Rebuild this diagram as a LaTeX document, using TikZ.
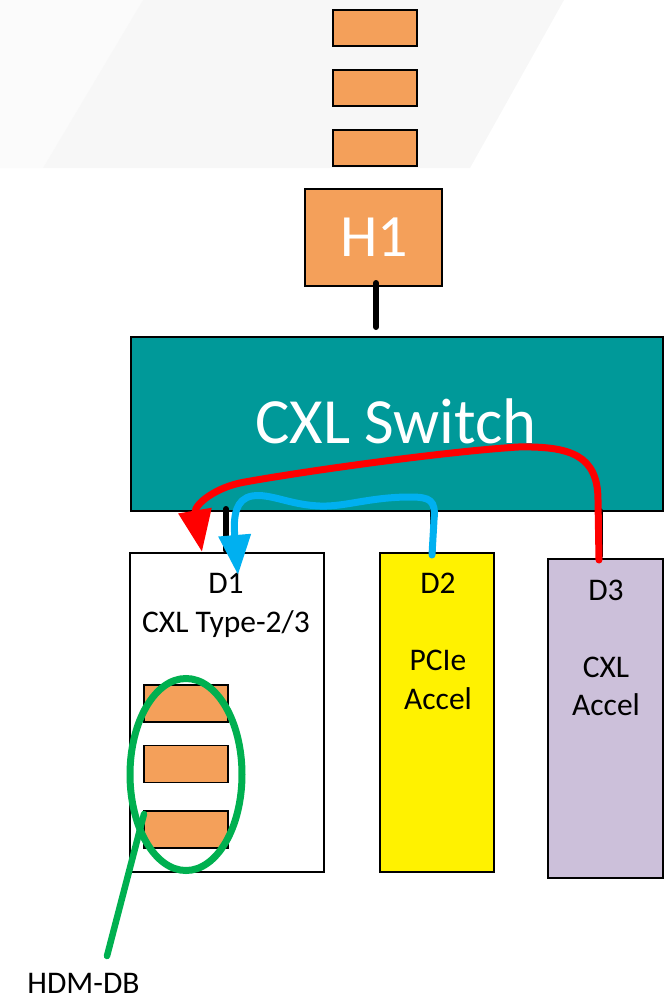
\documentclass[tikz,border=0pt]{standalone}
\usepackage{fontspec}
\setmainfont{Carlito}
\usetikzlibrary{calc,arrows.meta,shapes.geometric}
\definecolor{orangebox}{RGB}{244,160,90}
\definecolor{tealsw}{RGB}{0,153,153}
\definecolor{lav}{RGB}{204,192,218}
\definecolor{grn}{RGB}{0,176,80}
\definecolor{blu}{RGB}{0,176,240}
\definecolor{wmA}{RGB}{247,247,247}
\definecolor{wmB}{RGB}{251,251,251}
\begin{document}
\begin{tikzpicture}[x=1pt,y=-1pt,
  box/.style={draw=black,line width=1.4pt,inner sep=0pt,outer sep=0pt},
  obox/.style={box,fill=orangebox,minimum width=84pt,minimum height=36pt},
  link/.style={line width=6pt,line cap=round},
  flow/.style={line width=7pt,line cap=round},
  lbl/.style={anchor=base,inner sep=0pt,font=\fontsize{31.5}{31.5}\selectfont}]
\useasboundingbox (0,0) rectangle (667,999);
% faint watermark
\fill[wmB] (0,0) -- (143,0) -- (43,168) -- (0,168) -- cycle;
\fill[wmA] (143,0) -- (564,0) -- (470,168) -- (43,168) -- cycle;
% host side
\node[obox] (m1) at (375,28) {};
\node[obox] (m2) at (375,88) {};
\node[obox] (m3) at (375,148) {};
\node[box,fill=orangebox,minimum width=137pt,minimum height=97pt] (h1) at (373.5,237.5) {};
\node[anchor=base,inner sep=0pt,text=white,font=\fontsize{60}{60}\selectfont] (h1t) at (374,256) {H1};
% switch
\node[box,fill=tealsw,minimum width=532pt,minimum height=174pt] (sw) at (397,424) {};
\node[anchor=base,inner sep=0pt,text=white,font=\fontsize{64.5}{64.5}\selectfont] (swt) at (396,443) {CXL Switch};
% devices
\node[box,fill=white,minimum width=194pt,minimum height=319pt] (d1) at (227,712.5) {};
\node[box,fill=yellow,minimum width=114pt,minimum height=319pt] (d2) at (437,712.5) {};
\node[box,fill=lav,minimum width=115pt,minimum height=319pt] (d3) at (605.5,718.5) {};
% links
\draw[link] ([xshift=2.5pt,yshift=3pt]h1.south) -- ([xshift=2.5pt,yshift=10pt]sw.north -| h1.south);
\draw[link] ($(d1.north|-sw.south)+(-1,-2)$) -- ([xshift=-1pt,yshift=3pt]d1.north);
\draw[link] ($(d2.north|-sw.south)+(-4,0)$) -- ([xshift=-4pt,yshift=3pt]d2.north);
\draw[link] ($(d3.north|-sw.south)+(-5.5,0)$) -- ([xshift=-5.5pt,yshift=3pt]d3.north);
% device labels
\node[lbl] (d1a) at (226,593) {D1};
\node[lbl] (d1b) at (226,632) {CXL Type-2/3};
\node[lbl] (d2a) at (438,593) {D2};
\node[lbl] (d2b) at (438,670) {PCIe};
\node[lbl] (d2c) at (438,709) {Accel};
\node[lbl] (d3a) at (606,600) {D3};
\node[lbl] (d3b) at (606,677) {CXL};
\node[lbl] (d3c) at (606,715) {Accel};
% memory in D1
\node[obox,minimum height=37pt] (b1) at (186,703.5) {};
\node[obox,minimum height=37pt] (b2) at (186,764) {};
\node[obox,minimum height=37pt] (b3) at (186,829.5) {};
% HDM-DB marker
\node[ellipse,draw=grn,line width=7pt,minimum width=112pt,minimum height=192pt,inner sep=0pt] (hdm) at (186,774.5) {};
\node[lbl] (hdmlbl) at (83.5,993) {HDM-DB};
\coordinate (hdmtail) at (144,814);
\coordinate (hdmend) at (107,956);
\draw[grn,line width=6.5pt,line cap=round] (hdmtail) -- (hdmend);
% flows
\draw[blu,flow,-{Triangle[length=40pt,width=31pt]}]
  ([xshift=-5pt,yshift=-2pt]d2.north) -- (434,520)
  .. controls (436,500) and (430,497) .. (410,497)
  .. controls (370,497) and (345,507) .. (320,506)
  .. controls (290,505) and (270,493) .. (252,496)
  .. controls (236,499) and (233,515) .. ([xshift=11pt,yshift=-22pt]d1.north);
\draw[red,flow,-{Triangle[length=42pt,width=32pt]}]
  ([xshift=-6.5pt,yshift=-1pt]d3.north) -- (598,500)
  .. controls (598,455) and (570,446) .. (518,447)
  .. controls (440,452) and (300,472) .. (245,482)
  .. controls (215,487) and (194,505) .. ([xshift=-25pt,yshift=1pt]d1.north);
\end{tikzpicture}
\end{document}
